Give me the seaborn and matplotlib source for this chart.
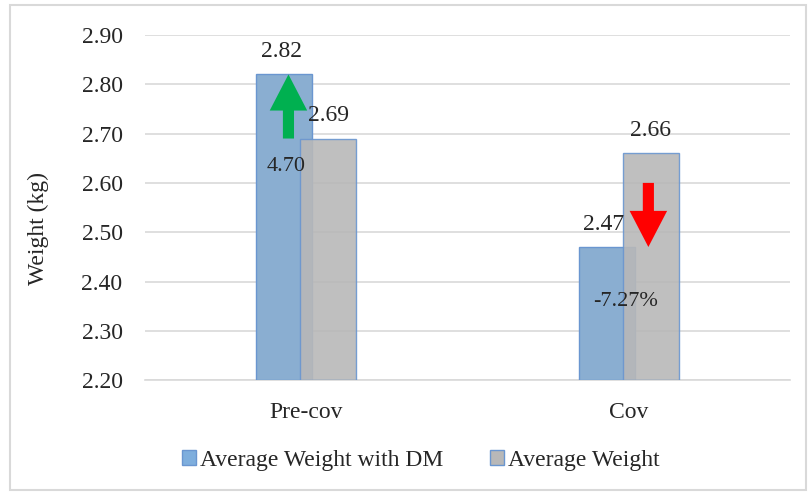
import matplotlib
matplotlib.use('Agg')
import matplotlib.pyplot as plt
import seaborn as sns
import pandas as pd
from matplotlib.patches import Rectangle, Patch

categories = ['Pre-cov', 'Cov']
series = ['Average Weight with DM', 'Average Weight']
weight_dm = [2.82, 2.47]
weight_avg = [2.69, 2.66]
changes = ['4.70', '-7.27%']
y_ticks = [2.20, 2.30, 2.40, 2.50, 2.60, 2.70, 2.80, 2.90]

df = pd.DataFrame({
    'Period': categories * 2,
    'Series': [series[0]] * 2 + [series[1]] * 2,
    'Weight': weight_dm + weight_avg,
})

sns.set_theme(style='white')
plt.rcParams['font.family'] = ['Liberation Serif', 'DejaVu Serif']

fig = plt.figure(figsize=(8.09, 4.93), dpi=100)
ax = fig.add_axes([0.179, 0.229, 0.798, 0.70])

blue = '#7eaedd'
grey = '#b8b8b8'
edge = '#6a96d0'

sns.barplot(data=df, x='Period', y='Weight', hue='Series', order=categories,
            hue_order=series, palette=[blue, grey], width=0.272, gap=-0.28,
            dodge=True, errorbar=None, ax=ax, legend=False, zorder=3)

# bars start at the axis floor
n = len(categories)
for i, p in enumerate(ax.patches):
    top = p.get_height()
    p.set_y(y_ticks[0])
    p.set_height(top - y_ticks[0])
    p.set_edgecolor(edge)
    p.set_linewidth(1.0)
    if i >= n:
        p.set_alpha(0.9)

ax.set_ylim(y_ticks[0], y_ticks[-1])
ax.set_xlim(-0.5, 1.5)
ax.set_yticks(y_ticks)
ax.set_yticklabels([f'{t:.2f}' for t in y_ticks], fontsize=17)
ax.tick_params(axis='x', labelsize=17, length=0, pad=16)
ax.tick_params(axis='y', length=0, pad=16)
ax.set_xlabel('')
ax.set_ylabel('Weight (kg)', fontsize=17)
ax.yaxis.set_label_coords(-0.148, 0.44)
ax.yaxis.grid(True, color='#d9d9d9', linewidth=1.2, zorder=0)
for s in ['top', 'right', 'left']:
    ax.spines[s].set_visible(False)
ax.spines['bottom'].set_color('#d9d9d9')
ax.spines['bottom'].set_linewidth(1.2)

# value labels
dm_bars = ax.patches[:n]
avg_bars = ax.patches[n:]
for b, v in zip(dm_bars, weight_dm):
    cx = b.get_x() + b.get_width() / 2
    ax.text(cx - 0.01, v + 0.025, f'{v:.2f}', ha='center', va='bottom', fontsize=17, zorder=5)
for b, v in zip(avg_bars, weight_avg):
    cx = b.get_x() + b.get_width() / 2
    ax.text(cx, v + 0.025, f'{v:.2f}', ha='center', va='bottom', fontsize=17, zorder=5)

# change arrows
ax.annotate('', xy=(-0.055, 2.82), xytext=(-0.055, 2.69),
            arrowprops=dict(facecolor='#00b050', edgecolor='none', width=8,
                            headwidth=27, headlength=26), zorder=6)
ax.text(-0.061, 2.633, changes[0], ha='center', va='center', fontsize=16, zorder=6)
ax.annotate('', xy=(1.06, 2.47), xytext=(1.06, 2.60),
            arrowprops=dict(facecolor='#ff0000', edgecolor='none', width=8,
                            headwidth=27, headlength=26), zorder=6)
ax.text(0.99, 2.36, changes[1], ha='center', va='center', fontsize=16, zorder=6)

handles = [Patch(facecolor=blue, edgecolor=edge, label=series[0]),
           Patch(facecolor=grey, edgecolor=edge, label=series[1])]
fig.legend(handles=handles, loc='center', bbox_to_anchor=(0.52, 0.066), ncol=2,
           frameon=False, fontsize=17, handlelength=0.6, handleheight=0.6,
           handletextpad=0.15, columnspacing=2.0)

fig.patches.append(Rectangle((0.012, 0.006), 0.984, 0.984, transform=fig.transFigure,
                             fill=False, edgecolor='#d9d9d9', linewidth=1.5))

fig.savefig('out.png', dpi=100)
